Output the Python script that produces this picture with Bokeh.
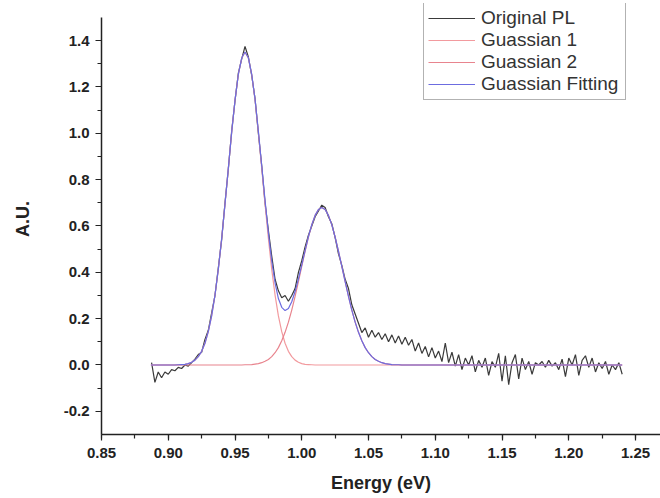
from bokeh.plotting import figure
from bokeh.models import Legend, LegendItem, SingleIntervalTicker, PrintfTickFormatter, Range1d
from bokeh.embed import file_html
from bokeh.resources import INLINE

# ---- data ----
pl_energy = [
    0.8875, 0.8900, 0.8925, 0.8950, 0.8975, 0.9000, 0.9025, 0.9050,
    0.9075, 0.9100, 0.9125, 0.9150, 0.9175, 0.9200, 0.9225, 0.9250,
    0.9275, 0.9300, 0.9325, 0.9350, 0.9375, 0.9400, 0.9425, 0.9450,
    0.9475, 0.9500, 0.9525, 0.9550, 0.9575, 0.9600, 0.9625, 0.9650,
    0.9675, 0.9700, 0.9725, 0.9750, 0.9775, 0.9800, 0.9825, 0.9850,
    0.9875, 0.9900, 0.9925, 0.9950, 0.9975, 1.0000, 1.0025, 1.0050,
    1.0075, 1.0100, 1.0125, 1.0150, 1.0175, 1.0200, 1.0225, 1.0250,
    1.0275, 1.0300, 1.0325, 1.0350, 1.0375, 1.0400, 1.0425, 1.0450,
    1.0475, 1.0500, 1.0525, 1.0550, 1.0575, 1.0600, 1.0625, 1.0650,
    1.0675, 1.0700, 1.0725, 1.0750, 1.0775, 1.0800, 1.0825, 1.0850,
    1.0875, 1.0900, 1.0925, 1.0950, 1.0975, 1.1000, 1.1025, 1.1050,
    1.1075, 1.1100, 1.1125, 1.1150, 1.1175, 1.1200, 1.1225, 1.1250,
    1.1275, 1.1300, 1.1325, 1.1350, 1.1375, 1.1400, 1.1425, 1.1450,
    1.1475, 1.1500, 1.1525, 1.1550, 1.1575, 1.1600, 1.1625, 1.1650,
    1.1675, 1.1700, 1.1725, 1.1750, 1.1775, 1.1800, 1.1825, 1.1850,
    1.1875, 1.1900, 1.1925, 1.1950, 1.1975, 1.2000, 1.2025, 1.2050,
    1.2075, 1.2100, 1.2125, 1.2150, 1.2175, 1.2200, 1.2225, 1.2250,
    1.2275, 1.2300, 1.2325, 1.2350, 1.2375, 1.2400,
]
pl_intensity = [
    0.010, -0.075, -0.030, -0.055, -0.030, -0.040, -0.020, -0.025,
    -0.010, -0.015, 0.000, -0.005, 0.010, 0.025, 0.045, 0.055,
    0.110, 0.150, 0.225, 0.300, 0.420, 0.540, 0.700, 0.845,
    1.010, 1.140, 1.260, 1.320, 1.375, 1.330, 1.250, 1.150,
    1.000, 0.860, 0.700, 0.580, 0.470, 0.370, 0.320, 0.290,
    0.300, 0.275, 0.300, 0.330, 0.400, 0.450, 0.510, 0.560,
    0.600, 0.640, 0.665, 0.690, 0.680, 0.640, 0.610, 0.550,
    0.480, 0.430, 0.370, 0.330, 0.260, 0.220, 0.180, 0.140,
    0.160, 0.120, 0.150, 0.120, 0.140, 0.110, 0.135, 0.100,
    0.130, 0.095, 0.125, 0.090, 0.120, 0.085, 0.110, 0.060,
    0.095, 0.050, 0.080, 0.035, 0.075, 0.030, 0.060, 0.015,
    0.095, 0.010, 0.055, -0.005, 0.045, -0.020, 0.030, 0.000,
    0.040, -0.030, 0.020, -0.010, 0.030, -0.045, 0.015, -0.010,
    0.050, -0.070, 0.040, -0.085, 0.010, 0.045, -0.060, 0.030,
    -0.020, 0.015, -0.040, 0.010, 0.000, 0.015, -0.010, 0.020,
    -0.005, 0.010, -0.020, 0.025, -0.050, 0.030, 0.000, 0.045,
    -0.045, 0.020, 0.040, -0.010, 0.030, -0.030, 0.010, -0.015,
    0.015, -0.040, 0.000, -0.020, 0.010, -0.040,
]

gauss_energy = [
    0.8870, 0.8950, 0.9000,
    0.9050, 0.9075, 0.9100, 0.9125, 0.9150, 0.9175, 0.9200, 0.9225,
    0.9250, 0.9275, 0.9300, 0.9325, 0.9350, 0.9375, 0.9400, 0.9425,
    0.9450, 0.9475, 0.9500, 0.9525, 0.9550, 0.9575, 0.9600, 0.9625,
    0.9650, 0.9675, 0.9700, 0.9725, 0.9750, 0.9775, 0.9800, 0.9825,
    0.9850, 0.9875, 0.9900, 0.9925, 0.9950, 0.9975, 1.0000, 1.0025,
    1.0050, 1.0075, 1.0100, 1.0125, 1.0150, 1.0175, 1.0200, 1.0225,
    1.0250, 1.0275, 1.0300, 1.0325, 1.0350, 1.0375, 1.0400, 1.0425,
    1.0450, 1.0475, 1.0500, 1.0525, 1.0550, 1.0575, 1.0600, 1.0625,
    1.0650, 1.0675, 1.0700, 1.0725, 1.0750, 1.0775, 1.0800,
    1.1000, 1.1500, 1.2000, 1.2400,
]
gauss_1 = [
    0.000, 0.000, 0.000,
    0.000, 0.001, 0.002, 0.003, 0.006, 0.012, 0.021, 0.036,
    0.059, 0.094, 0.144, 0.212, 0.302, 0.413, 0.546, 0.694,
    0.850, 1.004, 1.143, 1.254, 1.325, 1.350, 1.325, 1.254,
    1.143, 1.004, 0.850, 0.694, 0.546, 0.413, 0.302, 0.212,
    0.144, 0.094, 0.059, 0.036, 0.021, 0.012, 0.006, 0.003,
    0.002, 0.001, 0.000, 0.000, 0.000, 0.000, 0.000, 0.000,
    0.000, 0.000, 0.000, 0.000, 0.000, 0.000, 0.000, 0.000,
    0.000, 0.000, 0.000, 0.000, 0.000, 0.000, 0.000, 0.000,
    0.000, 0.000, 0.000, 0.000, 0.000, 0.000, 0.000,
    0.000, 0.000, 0.000, 0.000,
]
gauss_2 = [
    0.000, 0.000, 0.000,
    0.000, 0.000, 0.000, 0.000, 0.000, 0.000, 0.000, 0.000,
    0.000, 0.000, 0.000, 0.000, 0.000, 0.000, 0.000, 0.000,
    0.000, 0.000, 0.000, 0.000, 0.000, 0.001, 0.001, 0.002,
    0.004, 0.006, 0.010, 0.016, 0.024, 0.036, 0.053, 0.075,
    0.105, 0.141, 0.185, 0.237, 0.296, 0.360, 0.426, 0.491,
    0.552, 0.605, 0.646, 0.671, 0.680, 0.671, 0.646, 0.605,
    0.552, 0.491, 0.426, 0.360, 0.296, 0.237, 0.185, 0.141,
    0.105, 0.075, 0.053, 0.036, 0.024, 0.016, 0.010, 0.006,
    0.004, 0.002, 0.001, 0.001, 0.000, 0.000, 0.000,
    0.000, 0.000, 0.000, 0.000,
]
gauss_fit = [a + b for a, b in zip(gauss_1, gauss_2)]

series_labels = ["Original PL", "Guassian 1", "Guassian 2", "Guassian Fitting"]

# ---- figure ----
p = figure(
    width=660, height=498,
    x_range=Range1d(0.85, 1.2687), y_range=Range1d(-0.3, 1.5604),
    output_backend="svg", toolbar_location=None,
    min_border_left=101, min_border_right=0, min_border_top=3, min_border_bottom=64,
)
p.outline_line_color = None
p.grid.visible = False
p.background_fill_color = "white"
p.border_fill_color = "white"

r_pl = p.line(pl_energy, pl_intensity, line_color="#3a3a3a", line_width=1.2)
r_g1 = p.line(gauss_energy, gauss_1, line_color="#f29a9e", line_width=1.2)
r_g2 = p.line(gauss_energy, gauss_2, line_color="#e8848e", line_width=1.2)
r_fit = p.line(gauss_energy, gauss_fit, line_color="#6c6ce0", line_width=1.2)

# axes
xa = p.xaxis[0]
ya = p.yaxis[0]
xa.ticker = SingleIntervalTicker(interval=0.05, num_minor_ticks=2)
ya.ticker = SingleIntervalTicker(interval=0.2, num_minor_ticks=2)
ya.bounds = (-0.3, 1.5)
xa.formatter = PrintfTickFormatter(format="%.2f")
ya.formatter = PrintfTickFormatter(format="%.1f")
for ax in (xa, ya):
    ax.axis_line_color = "#222222"
    ax.axis_line_width = 1.5
    ax.major_tick_line_color = "#222222"
    ax.minor_tick_line_color = "#222222"
    ax.major_tick_line_width = 1.2
    ax.minor_tick_line_width = 1.2
    ax.major_tick_in = 0
    ax.major_tick_out = 6
    ax.minor_tick_in = 0
    ax.minor_tick_out = 4
    ax.major_label_text_font = "Liberation Sans"
    ax.major_label_text_font_style = "bold"
    ax.major_label_text_font_size = "15px"
    ax.major_label_text_color = "#222222"
    ax.axis_label_text_font = "Liberation Sans"
    ax.axis_label_text_font_style = "bold"
    ax.axis_label_text_font_size = "18px"
    ax.axis_label_text_color = "#222222"
xa.axis_label = "Energy (eV)"
ya.axis_label = "A.U."
xa.major_label_standoff = 7
xa.axis_label_standoff = 12
ya.major_label_standoff = 6
ya.axis_label_standoff = 28

legend = Legend(
    items=[
        LegendItem(label=series_labels[0], renderers=[r_pl]),
        LegendItem(label=series_labels[1], renderers=[r_g1]),
        LegendItem(label=series_labels[2], renderers=[r_g2]),
        LegendItem(label=series_labels[3], renderers=[r_fit]),
    ],
    location=(322, 334),
    label_text_font="Liberation Sans",
    label_text_font_size="19px",
    label_text_color="#333333",
    label_height=20, glyph_height=20, glyph_width=47,
    label_standoff=6, label_width=140,
    spacing=0, padding=4, margin=0,
    border_line_color="#666666", border_line_width=1,
    background_fill_color="white", background_fill_alpha=1.0,
)
p.add_layout(legend, "center")

open("out.html", "w").write(file_html(p, INLINE))
